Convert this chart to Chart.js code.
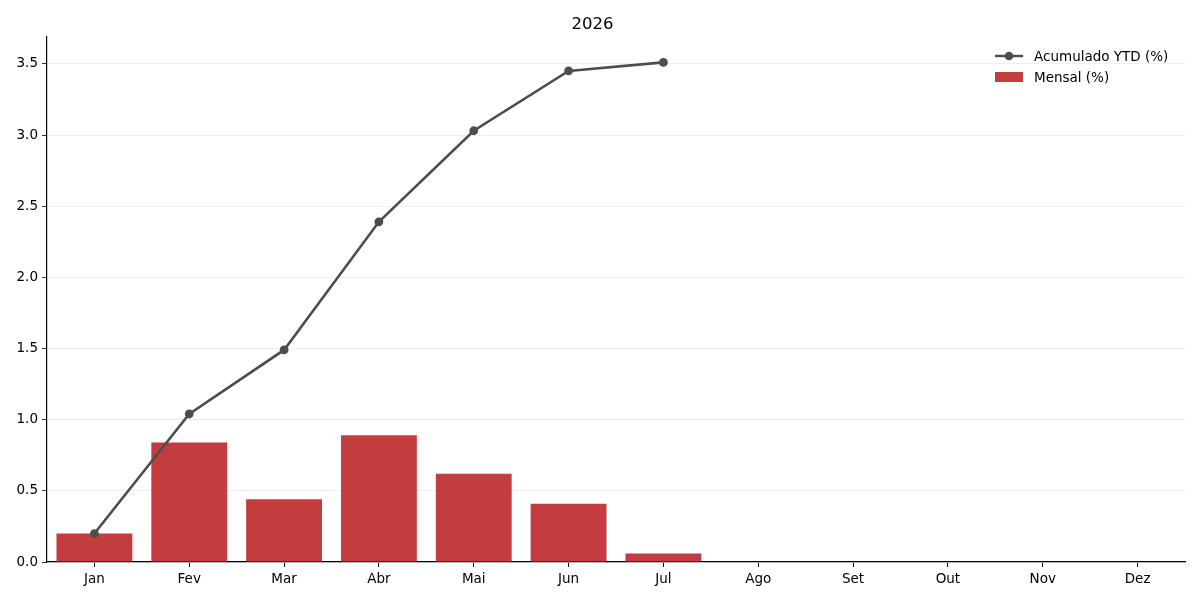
<!DOCTYPE html>
<html>
<head>
<meta charset="utf-8">
<script src="https://cdn.jsdelivr.net/npm/chart.js@4/dist/chart.umd.min.js"></script>
<style>
  html, body { margin: 0; padding: 0; background: #fff; }
  #wrap { width: 1200px; height: 600px; }
</style>
</head>
<body>
<div id="wrap"><canvas id="myChart"></canvas></div>
<script>
const chartTitle = "2026";
const months = ["Jan", "Fev", "Mar", "Abr", "Mai", "Jun", "Jul", "Ago", "Set", "Out", "Nov", "Dez"];
const mensal = [0.20, 0.84, 0.44, 0.89, 0.62, 0.41, 0.06];
const acumulado = [0.20, 1.04, 1.49, 2.39, 3.03, 3.45, 3.51];
const yMax = 3.69;

const lineColor = "#4d4d4d";
const barColor = "#c33d40";
const fontFamily = "'DejaVu Sans', sans-serif";

// legend drawn inside the plot, top right
const insideLegend = {
  id: "insideLegend",
  afterDraw(chart) {
    const ctx = chart.ctx;
    const x0 = chart.chartArea.right - 190;
    ctx.save();
    ctx.font = "13.5px " + fontFamily;
    ctx.fillStyle = "#000";
    ctx.textBaseline = "middle";
    // line entry
    ctx.strokeStyle = lineColor;
    ctx.lineWidth = 2.4;
    ctx.beginPath();
    ctx.moveTo(x0, 56);
    ctx.lineTo(x0 + 28, 56);
    ctx.stroke();
    ctx.fillStyle = lineColor;
    ctx.beginPath();
    ctx.arc(x0 + 14, 56, 4.3, 0, Math.PI * 2);
    ctx.fill();
    ctx.fillStyle = "#000";
    ctx.fillText(chart.data.datasets[0].label, x0 + 39, 57);
    // bar entry
    ctx.fillStyle = barColor;
    ctx.fillRect(x0, 72, 28, 10);
    ctx.fillStyle = "#000";
    ctx.fillText(chart.data.datasets[1].label, x0 + 39, 78);
    ctx.restore();
  }
};

const ctx = document.getElementById("myChart").getContext("2d");
new Chart(ctx, {
  data: {
    labels: months,
    datasets: [
      {
        type: "line",
        label: "Acumulado YTD (%)",
        data: acumulado,
        borderColor: lineColor,
        backgroundColor: lineColor,
        borderWidth: 2.6,
        pointRadius: 4.4,
        pointHoverRadius: 4.4,
        pointBackgroundColor: lineColor,
        pointBorderWidth: 0,
        tension: 0,
        order: 0,
      },
      {
        type: "bar",
        label: "Mensal (%)",
        data: mensal,
        backgroundColor: barColor,
        barPercentage: 0.8,
        categoryPercentage: 1.0,
        order: 1,
      },
    ],
  },
  options: {
    responsive: true,
    maintainAspectRatio: false,
    animation: false,
    layout: { padding: { left: 0, right: 15, top: 0, bottom: 0 } },
    plugins: {
      legend: { display: false },
      tooltip: { enabled: false },
      title: {
        display: true,
        text: chartTitle,
        color: "#000",
        font: { family: fontFamily, size: 16.5, weight: "normal" },
        padding: { top: 15, bottom: 2 },
      },
    },
    scales: {
      x: {
        offset: true,
        grid: {
          offset: false,
          drawOnChartArea: false,
          drawTicks: true,
          tickLength: 5,
          tickColor: "#000",
        },
        border: { display: true, color: "#000", width: 1.2 },
        ticks: {
          color: "#000",
          padding: 4,
          maxRotation: 0,
          font: { family: fontFamily, size: 13.5 },
        },
        afterFit(scale) { scale.height = 38; },
      },
      y: {
        min: 0,
        max: yMax,
        grid: {
          color: "#ebebeb",
          lineWidth: 0.8,
          drawTicks: true,
          tickLength: 5,
          tickColor: "#000",
        },
        border: { display: true, color: "#000", width: 1.2 },
        ticks: {
          stepSize: 0.5,
          includeBounds: false,
          color: "#000",
          padding: 4,
          font: { family: fontFamily, size: 13.5 },
          callback: (v) => Number(v).toFixed(1),
        },
        afterFit(scale) { scale.width = 47; },
      },
    },
  },
  plugins: [insideLegend],
});
</script>
</body>
</html>
